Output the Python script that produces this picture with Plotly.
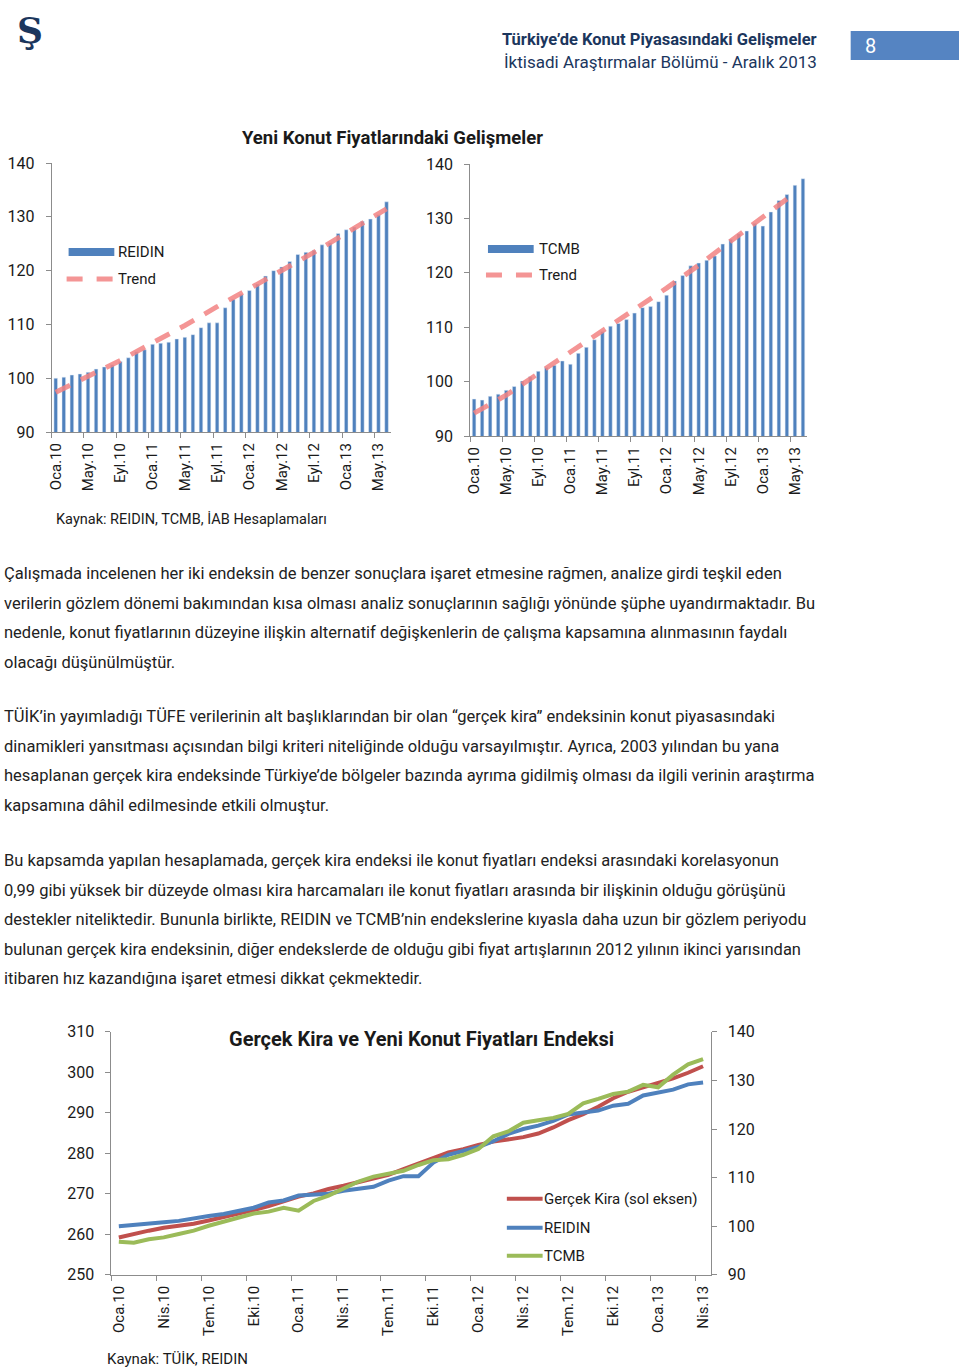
import plotly.graph_objects as go

# body margin is removed after plotting; the photographed page still puts the figure
# 9px down and squeezes it a little vertically, so page positions are mapped here
OFF_X, OFF_Y = 0, 9
SY = 0.9865
W, H = 960, 1382

# month labels (Turkish abbreviations)
months = ['Oca', 'Şub', 'Mar', 'Nis', 'May', 'Haz', 'Tem', 'Ağu', 'Eyl', 'Eki', 'Kas', 'Ara']
periods = [m + '.' + y for y in ['10', '11', '12', '13'] for m in months]

# bar charts: Oca.10 - Haz.13
reidin = [100.0, 100.2, 100.6, 100.8, 101.1, 101.7, 102.1, 102.5, 103.1, 103.8,
          104.9, 105.3, 106.3, 106.5, 106.7, 107.3, 107.6, 108.1, 109.4, 110.3,
          110.3, 113.1, 114.7, 115.6, 116.3, 117.5, 119.0, 120.0, 120.7, 121.7,
          123.0, 123.4, 123.8, 124.8, 125.2, 126.9, 127.6, 128.1, 129.2, 129.6,
          130.4, 132.8]
tcmb = [96.8, 96.6, 97.3, 97.7, 98.4, 99.1, 100.1, 100.9, 101.9, 102.6,
        103.0, 103.8, 103.2, 105.2, 106.3, 107.7, 109.2, 110.2, 110.7, 111.4,
        112.6, 113.6, 113.8, 114.7, 115.9, 118.5, 119.5, 121.3, 121.8, 122.3,
        123.1, 125.3, 126.2, 127.2, 127.7, 129.1, 128.6, 131.2, 133.3, 134.4,
        136.1, 137.3]

# trend lines at a few months
reidin_trend_idx = [0, 4, 8, 12, 16, 20, 24, 28, 32, 36, 41]
reidin_trend = [97.4, 100.4, 103.3, 106.6, 109.8, 113.3, 116.6, 120.1, 123.4, 127.0, 131.5]
tcmb_trend_idx = [0, 4, 8, 12, 16, 20, 24, 28, 32, 36, 39]
tcmb_trend = [94.2, 97.5, 101.5, 105.4, 109.3, 113.1, 117.2, 121.4, 125.9, 130.2, 133.6]

# line chart: Oca.10 - Nis.13
gercek_kira = [259.2, 260.1, 260.9, 261.6, 262.1, 262.6, 263.4, 264.2, 265.1, 266.0,
               267.0, 268.1, 269.3, 270.1, 271.2, 272.0, 272.9, 273.8, 274.7, 276.1,
               277.5, 279.0, 280.2, 281.0, 282.1, 282.9, 283.5, 284.0, 284.9, 286.4,
               288.2, 289.7, 291.5, 293.6, 295.2, 296.3, 297.4, 298.5, 299.9, 301.5]
n_line = 40

FONT = 'Roboto'
TXT = '#1a1a1a'
NAVY = '#1b365d'
AXC = '#8c8c8c'
BLUE = '#4f81bd'
RED = '#c0504d'
GREEN = '#9bbb59'
PINK = 'rgba(242,130,130,0.85)'


# page pixel -> paper fraction
def px(x):
    return (x - OFF_X) / W


def py(y):
    return 1 - (y / SY - OFF_Y) / H


fig = go.Figure()

n_bar = len(reidin)
xs_bar = list(range(n_bar))
fig.add_trace(go.Bar(x=xs_bar, y=reidin, marker_color=BLUE, xaxis='x', yaxis='y', showlegend=False))
fig.add_trace(go.Scatter(x=reidin_trend_idx, y=reidin_trend, mode='lines',
                         line=dict(color=PINK, width=5, dash='16px,12px'),
                         xaxis='x', yaxis='y', showlegend=False))
fig.add_trace(go.Bar(x=xs_bar, y=tcmb, marker_color=BLUE, xaxis='x2', yaxis='y2', showlegend=False))
fig.add_trace(go.Scatter(x=tcmb_trend_idx, y=tcmb_trend, mode='lines',
                         line=dict(color=PINK, width=5, dash='16px,12px'),
                         xaxis='x2', yaxis='y2', showlegend=False))

xs_line = list(range(n_line))
fig.add_trace(go.Scatter(x=xs_line, y=gercek_kira, mode='lines', line=dict(color=RED, width=4),
                         xaxis='x3', yaxis='y3', showlegend=False))
fig.add_trace(go.Scatter(x=xs_line, y=reidin[:n_line], mode='lines', line=dict(color=BLUE, width=4),
                         xaxis='x3', yaxis='y4', showlegend=False))
fig.add_trace(go.Scatter(x=xs_line, y=tcmb[:n_line], mode='lines', line=dict(color=GREEN, width=4),
                         xaxis='x3', yaxis='y4', showlegend=False))


def cat_axis(domain, anchor, n, step):
    return dict(domain=domain, anchor=anchor, range=[-0.5, n - 0.5],
                tickmode='array', tickvals=list(range(0, n, step)),
                ticktext=[periods[i] for i in range(0, n, step)],
                tickangle=-90, ticks='', showline=True, linecolor=AXC, linewidth=1,
                showgrid=False, zeroline=False, ticklabelstandoff=4,
                tickfont=dict(family=FONT, size=15, color=TXT),
                minor=dict(tickmode='array', tickvals=[i - 0.5 for i in range(0, n, step)],
                           ticks='outside', ticklen=5, tickcolor=AXC, showgrid=False))


def val_axis(domain, anchor, rng, side='left'):
    return dict(domain=domain, anchor=anchor, range=rng, dtick=10, side=side,
                ticks='outside', ticklen=5, tickcolor=AXC, showline=True, linecolor=AXC,
                linewidth=1, showgrid=False, zeroline=False, ticklabelstandoff=8,
                tickfont=dict(family=FONT, size=16, color=TXT))


fig.update_layout(
    width=W, height=H, margin=dict(l=0, r=0, t=0, b=0),
    paper_bgcolor='white', plot_bgcolor='white', bargap=0.55,
    font=dict(family=FONT, color=TXT),
    xaxis=cat_axis([px(47), px(388)], 'y', n_bar, 4),
    yaxis=val_axis([py(432), py(163)], 'x', [90, 140]),
    xaxis2=cat_axis([px(468), px(807)], 'y2', n_bar, 4),
    yaxis2=val_axis([py(436), py(164)], 'x2', [90, 140]),
    xaxis3=cat_axis([px(107), px(710)], 'y3', n_line, 3),
    yaxis3=val_axis([py(1275), py(1032)], 'x3', [250, 310]),
    yaxis4=dict(val_axis([py(1275), py(1032)], 'x3', [90, 140], side='right'), overlaying='y3'),
)

ann = []


def text(x, y, s, size=16, color=TXT, bold=False, anchor='left', family=FONT):
    if bold:
        s = '<b>' + s + '</b>'
    ann.append(dict(x=px(x), y=py(y), xref='paper', yref='paper', text=s, showarrow=False,
                    xanchor=anchor, yanchor='middle',
                    font=dict(family=family, size=size, color=color)))


# header
text(10, 30, 'Ş', size=36, color=NAVY, bold=True, family='DejaVu Serif')
text(819, 39, 'Türkiye’de Konut Piyasasındaki Gelişmeler', size=16.5, color=NAVY, bold=True, anchor='right')
text(819, 62, 'İktisadi Araştırmalar Bölümü - Aralık 2013', size=17, color=NAVY, anchor='right')
fig.add_shape(type='rect', xref='paper', yref='paper', x0=px(851), x1=px(960), y0=py(60), y1=py(31),
              fillcolor='#5584c2', line_width=0)
text(863, 46, '8', size=20, color='white')

# bar charts
text(390, 138, 'Yeni Konut Fiyatlarındaki Gelişmeler', size=18.5, bold=True, anchor='center')
legend_items = [(64, 252, 112, 'REIDIN', 279), (486, 249, 535, 'TCMB', 275)]
for sx, sy, tx, name, ty in legend_items:
    fig.add_shape(type='rect', xref='paper', yref='paper', x0=px(sx), x1=px(sx + 46),
                  y0=py(sy + 4), y1=py(sy - 4), fillcolor=BLUE, line_width=0)
    text(tx, sy, name, size=15)
    fig.add_shape(type='line', xref='paper', yref='paper', x0=px(sx - 2), x1=px(sx + 46),
                  y0=py(ty), y1=py(ty), line=dict(color=PINK, width=5, dash='16px,14px'))
    text(tx, ty, 'Trend', size=15)
text(49, 520, 'Kaynak: REIDIN, TCMB, İAB Hesaplamaları', size=14.5)

# body text
paragraphs = [
    (574, ['Çalışmada incelenen her iki endeksin de benzer sonuçlara işaret etmesine rağmen, analize girdi teşkil eden',
           'verilerin gözlem dönemi bakımından kısa olması analiz sonuçlarının sağlığı yönünde şüphe uyandırmaktadır. Bu',
           'nedenle, konut fiyatlarının düzeyine ilişkin alternatif değişkenlerin de çalışma kapsamına alınmasının faydalı',
           'olacağı düşünülmüştür.']),
    (717, ['TÜİK’in yayımladığı TÜFE verilerinin alt başlıklarından bir olan “gerçek kira” endeksinin konut piyasasındaki',
           'dinamikleri yansıtması açısından bilgi kriteri niteliğinde olduğu varsayılmıştır. Ayrıca, 2003 yılından bu yana',
           'hesaplanan gerçek kira endeksinde Türkiye’de bölgeler bazında ayrıma gidilmiş olması da ilgili verinin araştırma',
           'kapsamına dâhil edilmesinde etkili olmuştur.']),
    (861, ['Bu kapsamda yapılan hesaplamada, gerçek kira endeksi ile konut fiyatları endeksi arasındaki korelasyonun',
           '0,99 gibi yüksek bir düzeyde olması kira harcamaları ile konut fiyatları arasında bir ilişkinin olduğu görüşünü',
           'destekler niteliktedir. Bununla birlikte, REIDIN ve TCMB’nin endekslerine kıyasla daha uzun bir gözlem periyodu',
           'bulunan gerçek kira endeksinin, diğer endekslerde de olduğu gibi fiyat artışlarının 2012 yılının ikinci yarısından',
           'itibaren hız kazandığına işaret etmesi dikkat çekmektedir.']),
]
for y0, lines in paragraphs:
    for i, line in enumerate(lines):
        text(-3, y0 + i * 29.5, line, size=16.5, color='#222222')

# line chart
text(419, 1039, 'Gerçek Kira ve Yeni Konut Fiyatları Endeksi', size=20, bold=True, anchor='center')
for ly, color, name in [(1199, RED, 'Gerçek Kira (sol eksen)'), (1228, BLUE, 'REIDIN'), (1256, GREEN, 'TCMB')]:
    fig.add_shape(type='line', xref='paper', yref='paper', x0=px(505), x1=px(541), y0=py(ly), y1=py(ly),
                  line=dict(color=color, width=4))
    text(540, ly, name, size=15)
text(101, 1359, 'Kaynak: TÜİK, REIDIN', size=15)

fig.update_layout(annotations=ann)
fig.write_html('out.html', config={'displayModeBar': False},
               post_script="document.body.style.margin='0px';")
